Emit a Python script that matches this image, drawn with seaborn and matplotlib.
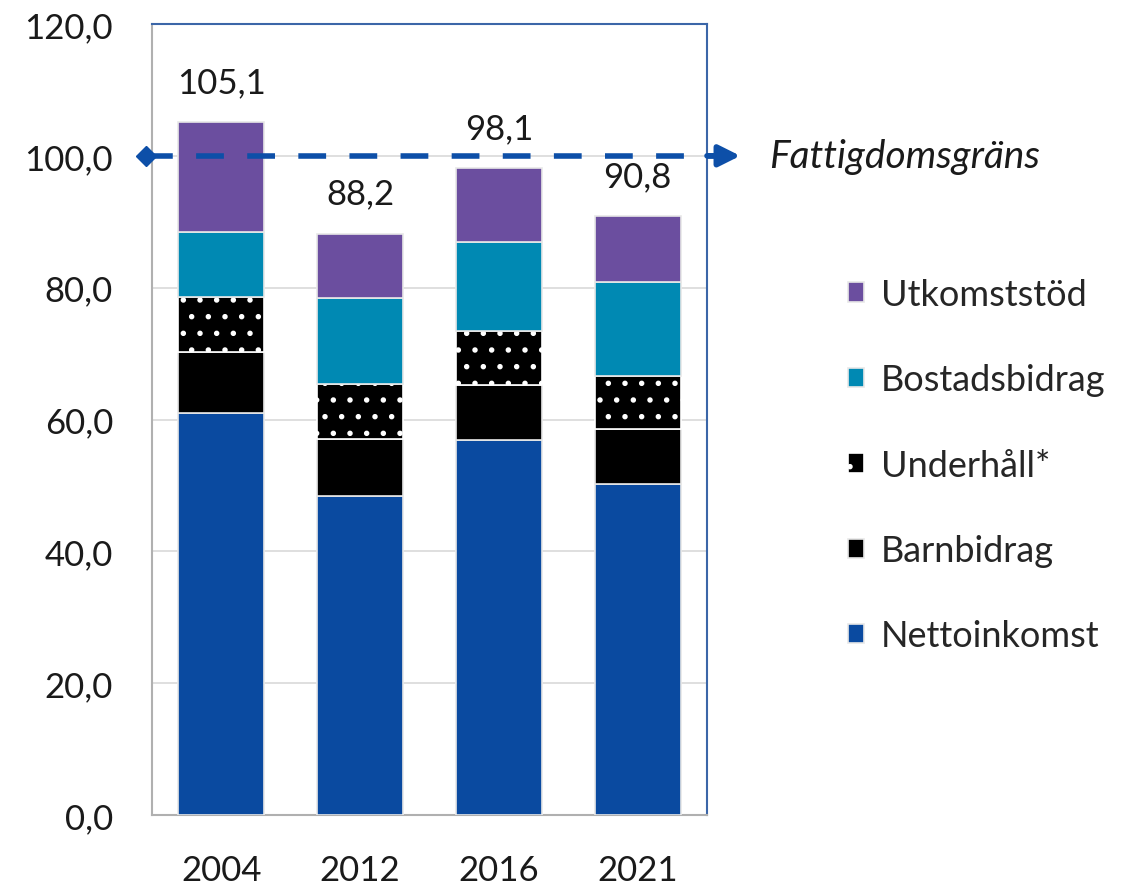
import numpy as np
import pandas as pd
import seaborn as sns
import matplotlib.pyplot as plt

# =====================================#
# DATA
# =====================================#
years = ["2004", "2012", "2016", "2021"]
nettoinkomst = [61.0, 48.4, 56.9, 50.2]
barnbidrag = [9.3, 8.7, 8.4, 8.4]
underhall = [8.3, 8.3, 8.1, 8.0]
bostadsbidrag = [9.9, 13.1, 13.5, 14.3]
utkomststod = [16.6, 9.7, 11.2, 9.9]
totals = ["105,1", "88,2", "98,1", "90,8"]
poverty_line = 100.0

series = ["Nettoinkomst", "Barnbidrag", "Underhåll*", "Bostadsbidrag", "Utkomststöd"]
values = [nettoinkomst, barnbidrag, underhall, bostadsbidrag, utkomststod]
colors = ["#0A4AA0", "#000000", "#000000", "#0089B3", "#6B4E9F"]
hatches = [None, None, ".", None, None]

df = pd.DataFrame({"year": years})
for name, v in zip(series, values):
	df[name] = v

# =====================================#
# PLOT
# =====================================#
sns.set_style("white")
plt.rcParams["font.family"] = ["Lato", "DejaVu Sans"]
plt.rcParams["hatch.linewidth"] = 1.5

fig = plt.figure(figsize=(11.25, 8.87), dpi=100)
ax = fig.add_axes([152 / 1125, 1 - 816 / 887, 555 / 1125, 791 / 887])

bottom = np.zeros(len(years))
for name, col, h in zip(series, colors, hatches):
	sns.barplot(
		data=df, x="year", y=name, bottom=bottom, color=col, saturation=1,
		width=0.62, ax=ax, label=name, hatch=h,
		edgecolor="white" if h else "#e8e8e8", linewidth=1.2, zorder=3,
	)
	bottom = bottom + df[name].to_numpy()

# total labels above bars
for i, t in enumerate(totals):
	ax.annotate(t, (i, bottom[i]), xytext=(0, 29), textcoords="offset points",
				ha="center", va="center", fontsize=25, color="#1a1a1a")

ax.set_ylim(0, 120)
ax.set_xlim(-0.5, 3.5)
ax.set_yticks(np.arange(0, 121, 20))
ax.set_yticklabels([f"{v:.1f}".replace(".", ",") for v in np.arange(0, 121, 20)])
ax.tick_params(axis="both", labelsize=25, length=0, colors="#1a1a1a")
ax.tick_params(axis="y", pad=28)
ax.tick_params(axis="x", pad=28)
ax.set_xlabel("")
ax.set_ylabel("")
ax.yaxis.grid(True, color="#d9d9d9", lw=1.2, zorder=0)
ax.set_axisbelow(True)

for s in ["left", "bottom"]:
	ax.spines[s].set_color("#b0b0b0")
	ax.spines[s].set_linewidth(1.5)
for s in ["top", "right"]:
	ax.spines[s].set_color("#3b66a8")
	ax.spines[s].set_linewidth(1.5)

# poverty line with diamond start and arrow head
line_col = "#0D4FA8"
ax.plot([-0.55, 3.6], [poverty_line, poverty_line], color=line_col, lw=4,
		ls=(0, (5, 4.2)), clip_on=False, zorder=5)
ax.plot([-0.545], [poverty_line], marker="D", ms=10, color=line_col,
		clip_on=False, zorder=5)
ax.annotate("", xy=(3.74, poverty_line), xytext=(3.5, poverty_line),
			arrowprops=dict(arrowstyle="-|>", color=line_col, lw=4,
							mutation_scale=32, shrinkA=0, shrinkB=0),
			annotation_clip=False, zorder=5)
ax.text(3.95, poverty_line, "Fattigdomsgräns", fontsize=28, style="italic",
		va="center", ha="left", color="#1a1a1a")

handles, labels = ax.get_legend_handles_labels()
leg = ax.legend(handles[::-1], labels[::-1], loc="upper left",
				bbox_to_anchor=(848 / 1125, 1 - 279 / 887),
				bbox_transform=fig.transFigure, frameon=False, fontsize=26,
				handlelength=0.45, handleheight=0.45, handletextpad=0.45,
				labelspacing=1.45, borderpad=0, borderaxespad=0)

plt.savefig("out.png", dpi=100)
